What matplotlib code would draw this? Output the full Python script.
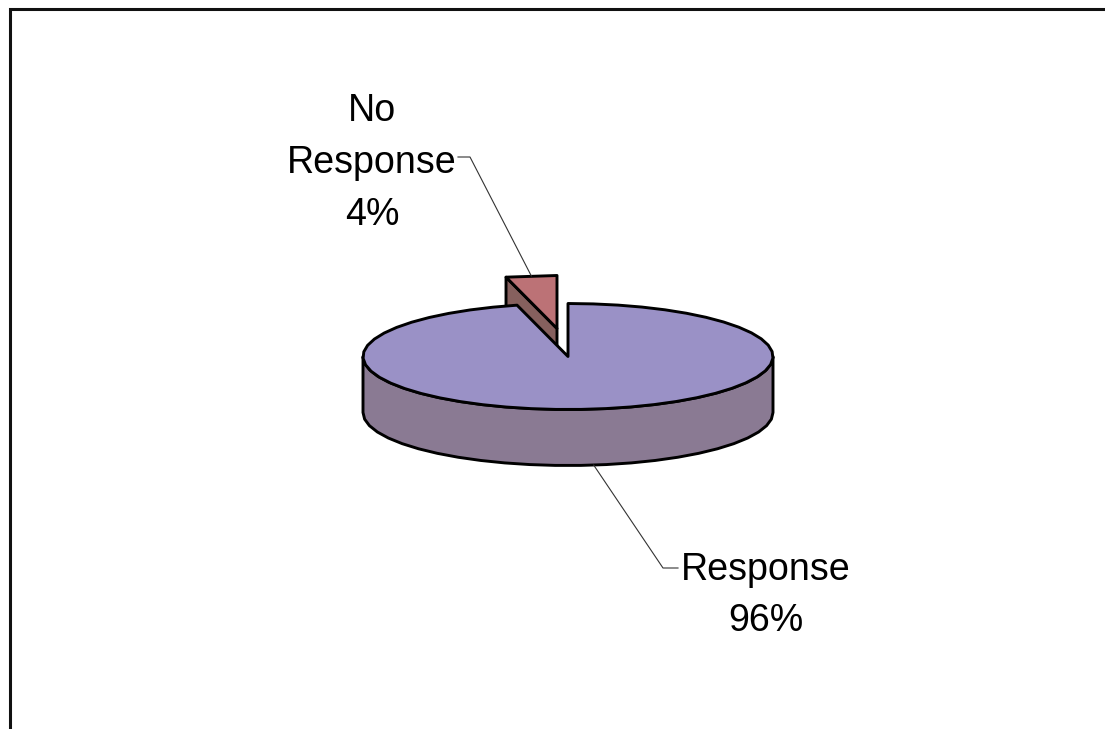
import numpy as np
from matplotlib import pyplot as plt
from matplotlib.patches import Polygon

labels = ['Response', 'No\nResponse']
values = [96, 4]
label_text = ['Response\n96%', 'No\nResponse\n4%']

top_colors = ['#9A91C6', '#BC7276']
side_colors = ['#8A7A93', '#86605E']

# pixel layout of the picture
cx, cy = 568, 356.5
rx, ry = 205, 53
depth = 56
explode = (-11, -28)

plt.rcParams['font.family'] = ['Liberation Sans', 'DejaVu Sans']

fig = plt.figure(figsize=(11.05, 7.29), dpi=100)
ax = fig.add_axes([0, 0, 1, 1])
ax.set_xlim(0, 1105)
ax.set_ylim(729, 0)
ax.axis('off')

# frame, only left and top reach inside the image
ax.plot([10, 10, 1105], [729, 8.5, 8.5], color='#111111', lw=2.2, solid_joinstyle='miter')


def rim(deg, ox=0, oy=0):
    a = np.radians(deg)
    return np.column_stack([cx + ox + rx * np.sin(a), cy + oy - ry * np.cos(a)])


def arc(start, end, ox=0, oy=0, step=7):
    # coarse steps, the original outline is visibly faceted
    n = max(int(abs(end - start) / step), 1)
    return rim(np.linspace(start, end, n + 1), ox, oy)


def patch(pts, color):
    ax.add_patch(Polygon(pts, closed=True, facecolor=color, edgecolor='black',
                         lw=2.1, joinstyle='round'))


angles = np.cumsum([0] + values) / sum(values) * 360
resp_start, resp_end = angles[0], angles[1]
no_start, no_end = angles[1], angles[2]
ex, ey = explode

# pulled out slice first, the big slice covers the lower part of its cut face
apex = np.array([cx + ex, cy + ey])
edge = rim(no_start, ex, ey)[0]
patch([apex, edge, edge + [0, depth], apex + [0, depth]], side_colors[1])
patch(np.vstack([[apex], arc(no_start, no_end, ex, ey, step=20)]), top_colors[1])

# outer wall of the big slice, front half only
front = arc(90, 270)
patch(np.vstack([front, (front + [0, depth])[::-1]]), side_colors[0])
patch(np.vstack([[[cx, cy]], arc(resp_start, resp_end)]), top_colors[0])

# leader lines start from the middle of each slice
mid = np.radians((resp_start + resp_end) / 2)
x0 = cx + rx * np.sin(mid)
y0 = cy - ry * np.cos(mid) + depth
ax.plot([x0, 663, 678], [y0, 568, 568], color='#333333', lw=0.8)

mid = np.radians((no_start + no_end) / 2)
x1 = cx + ex + rx * np.sin(mid)
y1 = cy + ey - ry * np.cos(mid)
ax.plot([x1, 470, 458], [y1, 157, 157], color='#333333', lw=0.8)

ax.text(765.5, 595.5, label_text[0], ha='center', va='center', fontsize=27.1,
        linespacing=1.56, color='black')
ax.text(372, 163, label_text[1], ha='center', va='center', fontsize=27.1,
        linespacing=1.56, color='black')

fig.savefig('out.png', dpi=100)
